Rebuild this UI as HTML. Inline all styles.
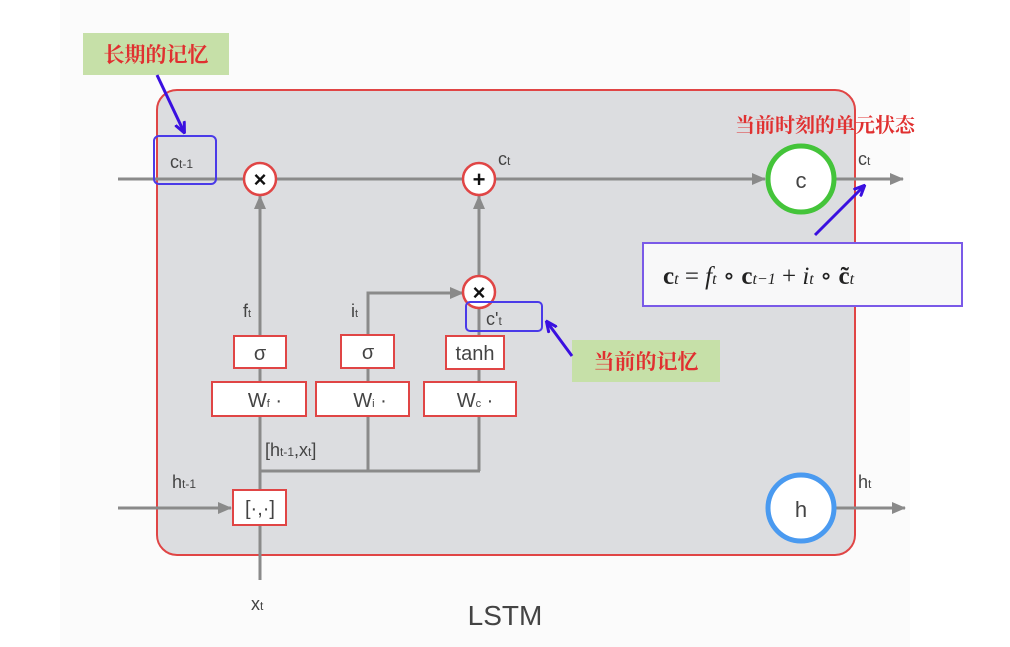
<!DOCTYPE html>
<html><head><meta charset="utf-8"><style>
html,body{margin:0;padding:0;background:#fff;}
svg{display:block;}
text{font-family:"Liberation Sans","Noto Sans CJK SC",sans-serif;}
.cjk{font-family:"Noto Serif CJK SC","Noto Sans CJK SC",serif;font-weight:bold;}
.math{font-family:"Liberation Serif","DejaVu Serif",serif;}
</style></head><body>
<svg width="1010" height="647" viewBox="0 0 1010 647" xmlns="http://www.w3.org/2000/svg">
<defs>
<marker id="gb" markerWidth="14" markerHeight="12" refX="13" refY="6" orient="auto" markerUnits="userSpaceOnUse"><path d="M0,0 L14,6 L0,12 Z" fill="#8a8a8a"/></marker>
<marker id="ba" markerWidth="12" markerHeight="12" refX="10" refY="6" orient="auto" markerUnits="userSpaceOnUse"><path d="M0,1 L11,6 L0,11" fill="none" stroke="#3a10e0" stroke-width="3"/></marker>
</defs>
<rect x="60" y="0" width="850" height="647" fill="#fbfbfb"/>
<rect x="157" y="90" width="698" height="465" rx="20" fill="#dcdde0" stroke="#e04545" stroke-width="2"/>
<g stroke="#8a8a8a" stroke-width="3" fill="none">
<line x1="118" y1="179" x2="765" y2="179" marker-end="url(#gb)"/>
<line x1="835" y1="179" x2="903" y2="179" marker-end="url(#gb)"/>
<line x1="835" y1="508" x2="905" y2="508" marker-end="url(#gb)"/>
<line x1="118" y1="508" x2="231" y2="508" marker-end="url(#gb)"/>
<line x1="260" y1="580" x2="260" y2="196" marker-end="url(#gb)"/>
<line x1="479" y1="471" x2="479" y2="196" marker-end="url(#gb)"/>
<polyline points="368,471 368,293 463,293" marker-end="url(#gb)"/>
<line x1="260" y1="471" x2="480" y2="471"/>
</g>
<g stroke="#e04545" stroke-width="2.5" fill="#fff">
<circle cx="260" cy="179" r="16"/><circle cx="479" cy="179" r="16"/><circle cx="479" cy="292" r="16"/>
</g>
<g font-weight="bold" font-size="22" text-anchor="middle" fill="#111">
<text x="260" y="187">×</text><text x="479" y="187">+</text><text x="479" y="300">×</text>
</g>
<circle cx="801" cy="179" r="33" fill="#fff" stroke="#44c43a" stroke-width="5"/>
<circle cx="801" cy="508" r="33" fill="#fff" stroke="#4a9af0" stroke-width="5"/>
<text x="801" y="188" font-size="22" text-anchor="middle" fill="#444">c</text>
<text x="801" y="517" font-size="22" text-anchor="middle" fill="#444">h</text>
<g stroke="#e04545" stroke-width="2" fill="#fff">
<rect x="234" y="336" width="52" height="32"/><rect x="341" y="335" width="53" height="33"/><rect x="446" y="336" width="58" height="33"/>
<rect x="212" y="382" width="94" height="34"/><rect x="316" y="382" width="93" height="34"/><rect x="424" y="382" width="92" height="34"/>
<rect x="233" y="490" width="53" height="35"/>
</g>
<g font-size="20" fill="#444" text-anchor="middle">
<text x="260" y="360">σ</text><text x="368" y="359">σ</text><text x="475" y="360">tanh</text>
<text x="265" y="407">W<tspan font-size="11">f</tspan>  ·</text>
<text x="370" y="407">W<tspan font-size="11">i</tspan>  ·</text>
<text x="475" y="407">W<tspan font-size="11">c</tspan>  ·</text>
<text x="260" y="515">[·,·]</text>
</g>
<g font-size="18" fill="#444">
<text x="243" y="317">f<tspan font-size="11">t</tspan></text>
<text x="351" y="317">i<tspan font-size="11">t</tspan></text>
<text x="265" y="456">[h<tspan font-size="12">t-1</tspan>,x<tspan font-size="12">t</tspan>]</text>
<text x="172" y="488">h<tspan font-size="12">t-1</tspan></text>
<text x="251" y="610">x<tspan font-size="12">t</tspan></text>
<text x="170" y="168">c<tspan font-size="12">t-1</tspan></text>
<text x="498" y="165">c<tspan font-size="12">t</tspan></text>
<text x="858" y="165">c<tspan font-size="12">t</tspan></text>
<text x="858" y="488">h<tspan font-size="12">t</tspan></text>
<text x="486" y="325">c'<tspan font-size="12">t</tspan></text>
</g>
<text x="505" y="625" font-size="28" text-anchor="middle" fill="#444">LSTM</text>
<rect x="154" y="136" width="62" height="48" rx="5" fill="none" stroke="#4a3ae8" stroke-width="2"/>
<rect x="466" y="302" width="76" height="29" rx="4" fill="none" stroke="#4a3ae8" stroke-width="2"/>
<rect x="643" y="243" width="319" height="63" fill="#f8f8f9" stroke="#7a5ae8" stroke-width="2"/>
<text x="663" y="284" class="math" font-size="25" fill="#222"><tspan font-weight="bold">c</tspan><tspan font-style="italic" font-size="16">t</tspan>  =  <tspan font-style="italic">f</tspan><tspan font-style="italic" font-size="16">t</tspan> ∘ <tspan font-weight="bold">c</tspan><tspan font-style="italic" font-size="16">t−1</tspan> + <tspan font-style="italic">i</tspan><tspan font-style="italic" font-size="16">t</tspan> ∘ <tspan font-weight="bold">c̃</tspan><tspan font-style="italic" font-size="16">t</tspan></text>
<rect x="83" y="33" width="146" height="42" fill="#c6e0a8"/>
<text x="156" y="62" class="cjk" font-size="21" fill="#e03030" text-anchor="middle">长期的记忆</text>
<rect x="572" y="340" width="148" height="42" fill="#c6e0a8"/>
<text x="646" y="369" class="cjk" font-size="21" fill="#e03030" text-anchor="middle">当前的记忆</text>
<text x="825" y="132" class="cjk" font-size="20" fill="#e03030" text-anchor="middle">当前时刻的单元状态</text>
<g stroke="#3a10e0" stroke-width="3" fill="none">
<line x1="157" y1="75" x2="184" y2="132" marker-end="url(#ba)"/>
<line x1="572" y1="356" x2="547" y2="322" marker-end="url(#ba)"/>
<line x1="815" y1="235" x2="864" y2="186" marker-end="url(#ba)"/>
</g>
</svg>
</body></html>
